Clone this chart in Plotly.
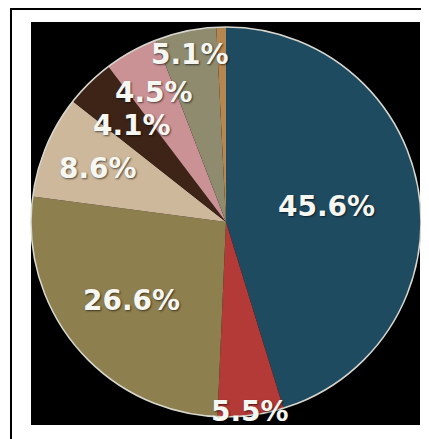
import math
import plotly.graph_objects as go

# Data (clockwise from 12 o'clock)
categories = ["A", "B", "C", "D", "E", "F", "G", "H"]
values = [45.6, 5.5, 26.6, 8.6, 4.1, 4.5, 5.1, 0.8]
labels = ["45.6%", "5.5%", "26.6%", "8.6%", "4.1%", "4.5%", "5.1%", ""]
colors = ["#1f4b61", "#b43a38", "#8e7f4f", "#cdb89b", "#3d2416",
          "#cb9296", "#8e8b6f", "#b58650"]

# Layout: radial placement of each label as a fraction of the radius
label_radius = [0.52, 0.98, 0.63, 0.71, 0.69, 0.76, 0.88, 0.5]

W, H = 429, 439
OFF = 8  # page body margin offset
cx, cy, r = 226 - OFF, 222 - OFF, 195  # pie centre / radius in pixels
dom_x = [(cx - r) / W, (cx + r) / W]
dom_y = [(H - cy - r) / H, (H - cy + r) / H]

fig = go.Figure()
fig.add_trace(go.Pie(
    labels=categories, values=values, text=labels,
    textinfo="none", sort=False, direction="clockwise", rotation=0,
    marker=dict(colors=colors, line=dict(width=0)),
    domain=dict(x=dom_x, y=dom_y), showlegend=False,
    hovertemplate="%{text}<extra></extra>",
))
# light rim around the pie
fig.add_trace(go.Pie(
    values=[1], labels=["rim"], textinfo="none", sort=False,
    marker=dict(colors=["rgba(0,0,0,0)"], line=dict(color="#d8d8d0", width=1.5)),
    domain=dict(x=dom_x, y=dom_y), showlegend=False, hoverinfo="skip",
))

# label annotations placed on each slice's bisector
total = sum(values)
annotations = []
cum = 0.0
for v, t, rf in zip(values, labels, label_radius):
    mid = (cum + v / 2) / total * 2 * math.pi
    cum += v
    if not t:
        continue
    px = cx + rf * r * math.sin(mid)
    py = cy - rf * r * math.cos(mid)
    annotations.append(dict(
        x=px / W, y=1 - py / H, xref="paper", yref="paper",
        text=t, showarrow=False, xanchor="center", yanchor="middle",
        font=dict(family="DejaVu Sans", size=28, color="#f7f7f2",
                  weight="bold", shadow="1px 1px 2px rgba(0,0,0,0.6)"),
    ))

fig.update_layout(
    width=W, height=H, margin=dict(l=0, r=0, t=0, b=0),
    paper_bgcolor="white", plot_bgcolor="white",
    annotations=annotations,
    shapes=[
        dict(type="rect", xref="paper", yref="paper", layer="below",
             x0=(31 - OFF) / W, x1=(420 - OFF) / W,
             y0=1 - (425 - OFF) / H, y1=1 - (22 - OFF) / H,
             fillcolor="black", line=dict(width=0)),
        dict(type="rect", xref="paper", yref="paper", layer="below",
             x0=(11 - OFF) / W, x1=1.1, y0=-0.1, y1=1 - (9 - OFF) / H,
             fillcolor="rgba(0,0,0,0)", line=dict(color="black", width=2)),
    ],
)

fig.write_html("out.html")
